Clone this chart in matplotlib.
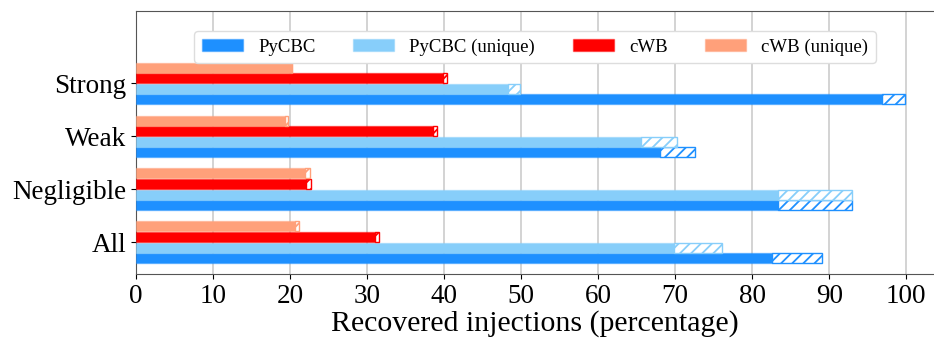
import matplotlib.pyplot as plt
import numpy as np

plt.rcParams['font.family'] = ['Liberation Serif', 'DejaVu Serif']
plt.rcParams['hatch.linewidth'] = 1.3

# Data: found = recovered by the pipeline, total = found + marginal (hatched part)
categories = ['All', 'Negligible', 'Weak', 'Strong']
pycbc_found = [82.6, 83.4, 68.0, 96.8]
pycbc_total = [89.0, 92.9, 72.6, 99.8]
pycbc_unique_found = [69.9, 83.4, 65.5, 48.3]
pycbc_unique_total = [76.1, 92.9, 70.2, 49.9]
cwb_found = [31.0, 22.1, 38.5, 39.8]
cwb_total = [31.55, 22.7, 39.05, 40.4]
cwb_unique_found = [20.7, 22.0, 19.4, 20.2]
cwb_unique_total = [21.2, 22.55, 19.7, 20.2]

series = [
    ('PyCBC', pycbc_found, pycbc_total, '#1E90FF', -0.3),
    ('PyCBC (unique)', pycbc_unique_found, pycbc_unique_total, '#87CEFA', -0.1),
    ('cWB', cwb_found, cwb_total, '#FF0000', 0.1),
    ('cWB (unique)', cwb_unique_found, cwb_unique_total, '#FFA07A', 0.3),
]

fig = plt.figure(figsize=(9.34, 3.45), dpi=100)
ax = fig.add_axes([136 / 934, 1 - 274 / 345, 1 - 136 / 934, 263 / 345])

y = np.arange(len(categories))
h = 0.19
for label, found, total, color, off in series:
    found = np.array(found)
    total = np.array(total)
    edge = plt.matplotlib.colors.to_rgba(color, 0.45)
    ax.barh(y + off, found, height=h, color=color, edgecolor=edge,
            linewidth=1, label=label, zorder=3)
    ax.barh(y + off, total - found, left=found, height=h, color='white',
            edgecolor=color, hatch='///', linewidth=1, zorder=3)

ax.set_xlim(0, 103.6)
ax.set_ylim(-0.6, 4.37)
ax.set_xticks(np.arange(0, 101, 10))
ax.set_yticks(y)
ax.set_yticklabels(categories)
ax.tick_params(labelsize=19.5)
ax.set_xlabel('Recovered injections (percentage)', fontsize=21.5, labelpad=1)
ax.grid(True, axis='x', color='#cccccc', linewidth=1.2, zorder=0)
ax.set_axisbelow(True)
for s in ['left', 'bottom', 'top']:
    ax.spines[s].set_color('#555555')
ax.spines['right'].set_visible(False)

ax.legend(loc='upper center', ncol=4, fontsize=13.5, handlelength=2.2,
          handleheight=0.6, columnspacing=2.0, bbox_to_anchor=(0.5, 0.96),
          framealpha=1, edgecolor='#dddddd')

fig.savefig('out.png', dpi=100)
